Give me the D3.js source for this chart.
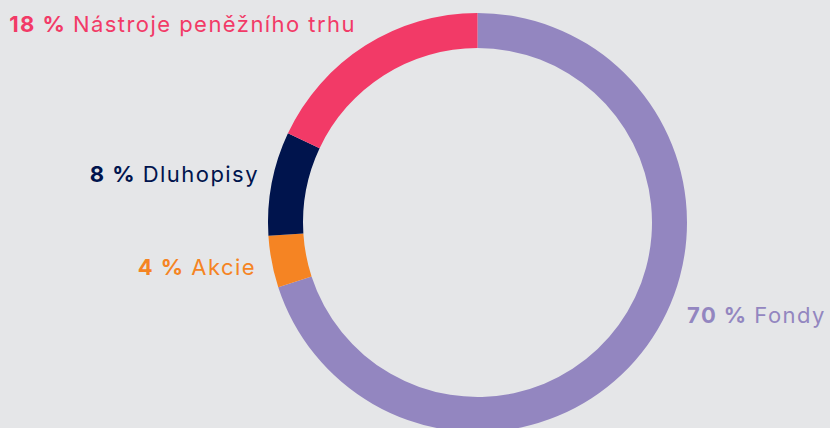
<!DOCTYPE html>
<html><head><meta charset="utf-8">
<script src="https://cdn.jsdelivr.net/npm/d3@7"></script>
<style>
html,body{margin:0;padding:0;background:#e5e6e8;}
svg{display:block;}
text{font-family:"Inter","Noto Sans",sans-serif;}
</style></head>
<body>
<svg id="c" width="830" height="428"></svg>
<script>
const categories = ["Fondy", "Akcie", "Dluhopisy", "Nástroje peněžního trhu"];
const values = [70, 4, 8, 18];
const colors = ["#9386c0", "#f58423", "#00144d", "#f23a67"];
const labelPos = [
  {x: 687, y: 323, anchor: "start"},
  {x: 256, y: 275, anchor: "end"},
  {x: 259, y: 182, anchor: "end"},
  {x: 356, y: 32, anchor: "end"}
];

const svg = d3.select("#c");
const cx = 477.5, cy = 222.5, rOuter = 209.5, rInner = 174.5;
const data = categories.map((c, i) => ({cat: c, value: values[i], color: colors[i], pos: labelPos[i]}));
const pie = d3.pie().value(d => d.value).sort(null);
const arc = d3.arc().innerRadius(rInner).outerRadius(rOuter);
const g = svg.append("g").attr("transform", `translate(${cx},${cy})`);
g.selectAll("path").data(pie(data)).join("path")
  .attr("d", arc).attr("fill", d => d.data.color);

const lab = svg.selectAll("text.lab").data(data).join("text")
  .attr("class", "lab")
  .attr("x", d => d.pos.x).attr("y", d => d.pos.y)
  .attr("text-anchor", d => d.pos.anchor)
  .attr("fill", d => d.color)
  .style("font-size", "22px")
  .style("letter-spacing", "1.45px");
lab.append("tspan").attr("font-weight", 700).text(d => d.value + " % ");
lab.append("tspan").attr("font-weight", 400).text(d => d.cat);
</script>
</body></html>
